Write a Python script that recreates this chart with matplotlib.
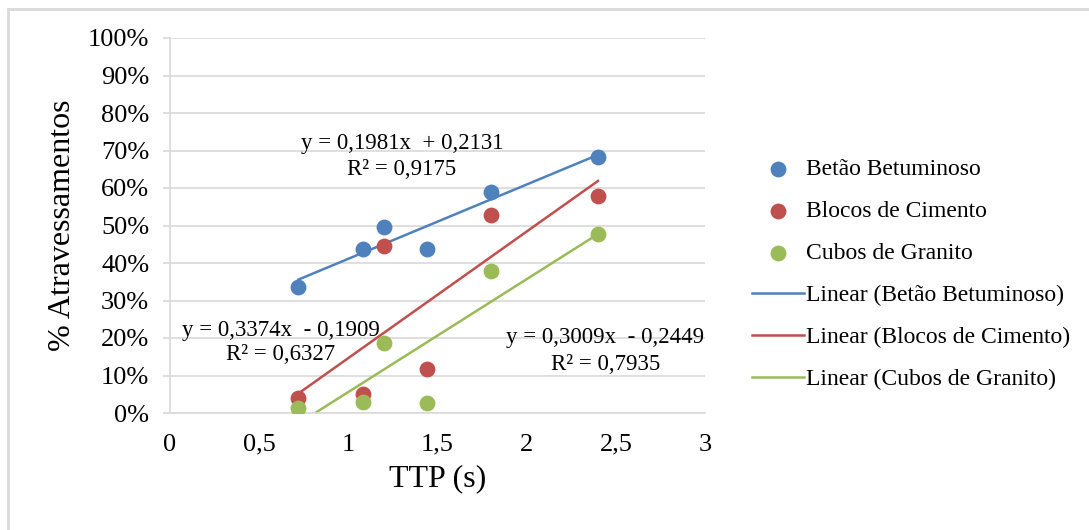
import matplotlib.pyplot as plt
from matplotlib.lines import Line2D
from matplotlib.ticker import FuncFormatter
import numpy as np

plt.rcParams['font.family'] = ['Liberation Serif', 'DejaVu Serif']

# TTP (s) e percentagem de atravessamentos por tipo de pavimento
ttp = [0.72, 1.08, 1.2, 1.44, 1.8, 2.4]
betao = [0.336, 0.437, 0.496, 0.437, 0.589, 0.683]
blocos = [0.040, 0.051, 0.445, 0.117, 0.528, 0.579]
cubos = [0.013, 0.030, 0.187, 0.027, 0.379, 0.477]

series_names = ['Betão Betuminoso', 'Blocos de Cimento', 'Cubos de Granito']
colors = ['#4F81BD', '#C0504D', '#9BBB59']

# rectas de tendência (declive, ordenada na origem, R²)
slopes = [0.1981, 0.3374, 0.3009]
intercepts = [0.2131, -0.1909, -0.2449]
r2 = [0.9175, 0.6327, 0.7935]
eq_pos = [(1.30, 0.72, 0.65), (0.62, 0.22, 0.155), (2.44, 0.20, 0.13)]

fig = plt.figure(figsize=(10.89, 5.30), dpi=100)
ax = fig.add_axes([170 / 1089, 1 - 413 / 530, 535 / 1089, 375 / 530])

grid_c = '#D9D9D9'
data = [betao, blocos, cubos]
for ys, name, c in zip(data, series_names, colors):
    ax.scatter(ttp, ys, s=130, color=c, label=name, zorder=3, linewidths=0)

xs = np.array([min(ttp), max(ttp)])
for m, b, name, c in zip(slopes, intercepts, series_names, colors):
    ax.plot(xs, m * xs + b, color=c, lw=1.8, label='Linear (%s)' % name, zorder=2)

def fmt_num(v):
    return ('%.4f' % abs(v)).replace('.', ',')

for m, b, rr, (tx, ty1, ty2) in zip(slopes, intercepts, r2, eq_pos):
    sign = '+' if b >= 0 else '-'
    ax.text(tx, ty1, 'y = %sx  %s %s' % (fmt_num(m), sign, fmt_num(b)),
            ha='center', va='center', fontsize=16.5, zorder=4)
    ax.text(tx, ty2, 'R² = %s' % fmt_num(rr), ha='center', va='center', fontsize=16.5, zorder=4)

ax.set_xlim(0, 3)
ax.set_ylim(0, 1)
ax.set_xticks(np.arange(0, 3.01, 0.5))
ax.set_yticks(np.arange(0, 1.01, 0.1))
ax.xaxis.set_major_formatter(FuncFormatter(lambda v, p: ('%g' % v).replace('.', ',')))
ax.yaxis.set_major_formatter(FuncFormatter(lambda v, p: '%d%%' % round(v * 100)))
ax.yaxis.grid(True, color=grid_c, lw=1.2)
ax.set_axisbelow(True)
for s in ['top', 'right']:
    ax.spines[s].set_visible(False)
ax.spines['left'].set_color(grid_c)
ax.spines['bottom'].set_color(grid_c)
ax.spines['left'].set_linewidth(1.2)
ax.spines['bottom'].set_linewidth(1.2)
ax.tick_params(axis='y', length=5, color=grid_c, width=1.2, pad=10, labelsize=19)
ax.tick_params(axis='x', length=0, pad=15, labelsize=19)

ax.set_xlabel('TTP (s)', fontsize=23, labelpad=6)
ax.set_ylabel('% Atravessamentos', fontsize=23, labelpad=8)

leg = ax.legend(loc='center left', bbox_to_anchor=(1.0475, 0.37), frameon=False,
                fontsize=17, labelspacing=0.87, handlelength=2.2, handletextpad=0.1)

# moldura da área do gráfico
fig.add_artist(Line2D([8 / 1089, 1], [1 - 9 / 530, 1 - 9 / 530], color=grid_c, lw=2))
fig.add_artist(Line2D([8 / 1089, 8 / 1089], [0, 1 - 9 / 530], color=grid_c, lw=2))

fig.savefig('out.png', dpi=100)
